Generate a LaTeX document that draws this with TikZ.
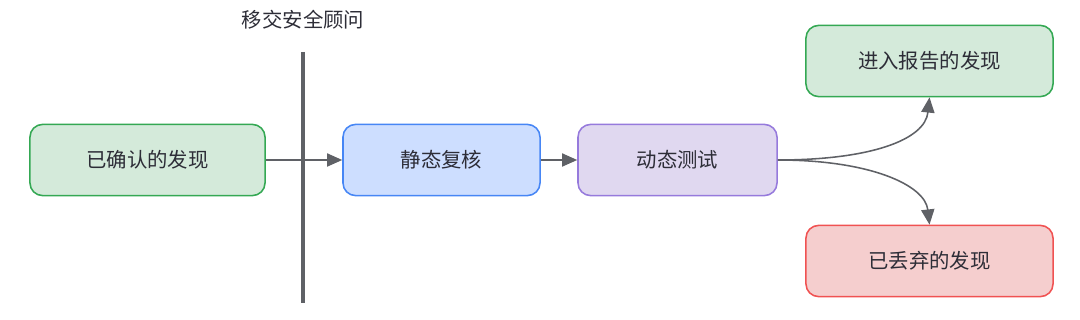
\documentclass[tikz,border=0pt]{standalone}
\usepackage{fontspec}
\usepackage{tikz}
\usetikzlibrary{arrows.meta,positioning,calc}
\newfontfamily\cjk{Noto Sans CJK SC}
\definecolor{ink}{RGB}{45,45,55}
\definecolor{wire}{RGB}{95,97,102}
\definecolor{gFill}{RGB}{212,234,218}
\definecolor{gLine}{RGB}{52,168,83}
\definecolor{bFill}{RGB}{205,222,255}
\definecolor{bLine}{RGB}{70,134,245}
\definecolor{pFill}{RGB}{224,216,240}
\definecolor{pLine}{RGB}{150,122,220}
\definecolor{rFill}{RGB}{245,206,206}
\definecolor{rLine}{RGB}{240,82,82}
\tikzset{
  obj/.style={draw,rounded corners=9pt,line width=1.1pt,inner sep=0pt,
    minimum height=1.78cm,text=ink,font=\cjk\fontsize{14.5}{16}\selectfont,align=center},
  ar/.style={draw=wire,line width=1.1pt,-{Triangle[length=3.8mm,width=3.3mm]}},
  tag/.style={font=\cjk\fontsize{14.5}{16}\selectfont,text=ink,inner sep=1pt},
}

\begin{document}
\begin{tikzpicture}[x=0.025cm,y=-0.025cm]
  \useasboundingbox (0,0) rectangle (1080,320);
  % main flow : left to right
  \node[obj,draw=gLine,fill=gFill,minimum width=5.875cm] (found) at (147.5,160) {已确认的发现};
  \node[obj,draw=bLine,fill=bFill,minimum width=4.925cm] (static) at (441.5,160) {静态复核};
  \node[obj,draw=pLine,fill=pFill,minimum width=4.975cm] (dynamic) at (677.5,160) {动态测试};
  \node[obj,draw=gLine,fill=gFill,minimum width=6.175cm] (report) at (929.5,61) {进入报告的发现};
  \node[obj,draw=rLine,fill=rFill,minimum width=6.175cm] (dropped) at (929.5,261) {已丢弃的发现};

  \draw[ar] (found) -- (static);
  \draw[ar] (static) -- (dynamic);
  \draw[ar] (dynamic.east) .. controls (870,160) and (925,140) .. (report.south);
  \draw[ar] (dynamic.east) .. controls (870,160) and (925,185) .. (dropped.north);

  % handover line
  \coordinate (laneTop) at (303,52);
  \coordinate (laneBot) at (303,303);
  \draw[wire,line width=2.9pt] (laneTop) -- (laneBot);
  \node[tag] (handover) at (303,20) {移交安全顾问};
\end{tikzpicture}
\end{document}
